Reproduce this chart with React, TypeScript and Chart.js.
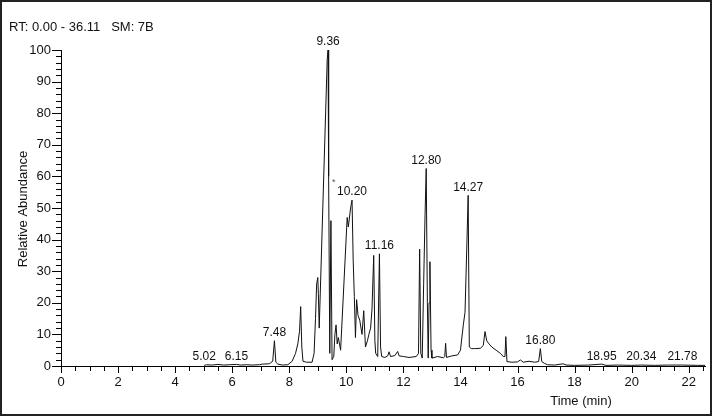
import React, { useEffect, useRef } from "react";
import { Chart, registerables } from "chart.js";

Chart.register(...registerables);

const FONT = '"Liberation Sans", Arial, Helvetica, sans-serif';

const chartTitle = "RT: 0.00 - 36.11   SM: 7B";
const xAxisTitle = "Time (min)";
const yAxisTitle = "Relative Abundance";

// retention time (min)
const times = [
  5.02, 5.1, 5.3, 5.5, 5.7, 5.9, 6.15, 6.3, 6.5, 6.7, 6.95, 7.06, 7.3, 7.42, 7.48, 7.53, 7.6, 7.76, 7.95,
  8.1, 8.22, 8.3, 8.36, 8.4, 8.44, 8.48, 8.6, 8.8, 8.87, 8.92, 8.96, 9.0, 9.02, 9.05, 9.33, 9.36, 9.38,
  9.42, 9.46, 9.5, 9.56, 9.6, 9.64, 9.68, 9.72, 9.8, 10.03, 10.07, 10.15, 10.2, 10.24, 10.28, 10.32,
  10.36, 10.41, 10.47, 10.55, 10.61, 10.67, 10.74, 10.79, 10.85, 10.9, 10.96, 11.0, 11.03, 11.1, 11.16,
  11.2, 11.24, 11.35, 11.45, 11.5, 11.55, 11.7, 11.8, 11.85, 12.0, 12.2, 12.45, 12.53, 12.57, 12.61,
  12.66, 12.71, 12.76, 12.8, 12.84, 12.87, 12.9, 12.93, 12.97, 13.0, 13.2, 13.4, 13.45, 13.48, 13.51,
  13.7, 13.9, 14.0, 14.1, 14.16, 14.22, 14.27, 14.31, 14.38, 14.5, 14.7, 14.8, 14.86, 14.92, 15.0, 15.1,
  15.25, 15.4, 15.5, 15.56, 15.59, 15.63, 15.8, 16.0, 16.1, 16.2, 16.4, 16.6, 16.74, 16.8, 16.85, 16.95,
  17.05, 17.3, 17.6, 17.7, 18.0, 18.5, 18.95, 19.1, 19.5, 20.0, 20.34, 20.8, 21.3, 21.78, 22.3, 22.58,
];

// relative abundance (%)
const abundance = [
  0.2, 0.4, 0.3, 0.5, 0.3, 0.4, 0.5, 0.3, 0.4, 0.3, 0.4, 0.6, 0.7, 1.5, 8, 1.2, 0.6, 0.3, 0.4,
  1.5, 4, 7, 11, 18.8, 6, 1.5, 1.2, 1.2, 4, 15, 26, 28, 23, 12, 97, 100, 60,
  4, 46, 2, 3, 10, 13, 7, 9, 5, 47, 44, 50, 52.5, 33.5, 22, 9,
  21, 16, 14.5, 10, 17.5, 6, 8, 10, 12, 18, 35, 8, 4, 3, 35.5,
  6, 3, 2.7, 3.2, 4.5, 3, 3.3, 4.6, 3.2, 3, 2.7, 3, 4, 37, 4,
  2.5, 26, 48, 62.5, 20, 2.5, 20, 33, 5, 2.5, 3, 2.6, 3, 7.2, 2.7,
  3.2, 3.5, 5, 13, 17, 37, 54, 6, 5.5, 5.5, 5.6, 6.5, 10.9, 8, 7, 6,
  5, 4, 3, 3, 9.3, 1.4, 1.2, 1.3, 1.9, 1.2, 1.5, 1.2, 1.4, 5.5, 1.4, 0.8,
  0.4, 0.3, 0.7, 0.3, 0.2, 0.3, 0.6, 0.2, 0.3, 0.2, 0.3, 0.2, 0.3, 0.3, 0.2, 0.2,
];

// labelled peaks
const peakTimes = [5.02, 6.15, 7.48, 9.36, 10.2, 11.16, 12.8, 14.27, 16.8, 18.95, 20.34, 21.78];
const peakValues = [0.3, 0.3, 8, 100, 52.5, 35.5, 62.5, 54, 5.5, 0.3, 0.3, 0.3];
const peakLabels = ["5.02", "6.15", "7.48", "9.36", "10.20", "11.16", "12.80", "14.27", "16.80", "18.95", "20.34", "21.78"];

// small asterisk marker
const markerTimes = [9.56];
const markerValues = [58];

const decorPlugin = {
  id: "decor",
  beforeDraw(chart: any) {
    const ctx = chart.ctx;
    ctx.save();
    ctx.fillStyle = "#fff";
    ctx.fillRect(0, 0, chart.width, chart.height);
    ctx.restore();
  },
  afterDraw(chart: any) {
    const ctx = chart.ctx;
    const xs = chart.scales.x;
    const ys = chart.scales.y;
    const ca = chart.chartArea;
    ctx.save();
    ctx.strokeStyle = "#000";
    ctx.lineWidth = 1;
    // x tick marks
    xs.ticks.forEach((t: any) => {
      const px = Math.round(xs.getPixelForValue(t.value)) + 0.5;
      const major = Math.abs(t.value / 2 - Math.round(t.value / 2)) < 1e-6;
      ctx.beginPath();
      ctx.moveTo(px, ca.bottom);
      ctx.lineTo(px, ca.bottom + (major ? 7 : 5));
      ctx.stroke();
    });
    // y tick marks
    ys.ticks.forEach((t: any) => {
      const py = Math.round(ys.getPixelForValue(t.value)) + 0.5;
      const major = Math.abs(t.value / 10 - Math.round(t.value / 10)) < 1e-6;
      ctx.beginPath();
      ctx.moveTo(ca.left, py);
      ctx.lineTo(ca.left - (major ? 9 : 5), py);
      ctx.stroke();
    });

    ctx.fillStyle = "#111";
    // peak labels
    ctx.font = `12px ${FONT}`;
    ctx.textAlign = "center";
    ctx.textBaseline = "bottom";
    peakTimes.forEach((t, i) => {
      const px = xs.getPixelForValue(t);
      const py = ys.getPixelForValue(peakValues[i]);
      ctx.fillText(peakLabels[i], px, py - 2);
    });
    // asterisk
    ctx.font = `9px ${FONT}`;
    ctx.fillStyle = "#555";
    ctx.textBaseline = "middle";
    markerTimes.forEach((t, i) => {
      ctx.fillText("*", xs.getPixelForValue(t), ys.getPixelForValue(markerValues[i]));
    });

    // titles
    ctx.fillStyle = "#111";
    ctx.font = `13px ${FONT}`;
    ctx.textAlign = "left";
    ctx.textBaseline = "middle";
    ctx.fillText(chartTitle, 9, 27);

    ctx.textAlign = "center";
    ctx.fillText(xAxisTitle, 581, 401);

    ctx.save();
    ctx.translate(23, 209);
    ctx.rotate(-Math.PI / 2);
    ctx.fillText(yAxisTitle, 0, 0);
    ctx.restore();

    // outer frame
    ctx.strokeStyle = "#222";
    ctx.lineWidth = 2;
    ctx.strokeRect(1, 1, chart.width - 2, chart.height - 3);
    ctx.restore();
  },
};

export default function App() {
  const ref = useRef<HTMLCanvasElement | null>(null);
  useEffect(() => {
    document.body.style.margin = "0";
    const canvas = ref.current;
    if (!canvas) return;
    const chart = new Chart(canvas, {
      type: "line",
      data: {
        datasets: [
          {
            data: times.map((t, i) => ({ x: t, y: abundance[i] })),
            borderColor: "#111",
            borderWidth: 1,
            pointRadius: 0,
            tension: 0,
            fill: false,
          },
        ],
      },
      options: {
        animation: false,
        responsive: false,
        devicePixelRatio: 1,
        layout: { padding: { left: 0, top: 50, right: 4, bottom: 0 } },
        plugins: { legend: { display: false }, tooltip: { enabled: false }, title: { display: false } },
        scales: {
          x: {
            type: "linear",
            min: 0,
            max: 22.58,
            afterFit(s: any) {
              s.height = 51;
            },
            grid: { display: false, drawTicks: false },
            border: { display: true, color: "#000", width: 1 },
            ticks: {
              stepSize: 0.5,
              autoSkip: false,
              maxRotation: 0,
              includeBounds: false,
              padding: 9,
              color: "#111",
              font: { family: FONT, size: 13 },
              callback: (v: any) => {
                const n = Number(v);
                return Math.abs(n / 2 - Math.round(n / 2)) < 1e-6 ? String(Math.round(n)) : "";
              },
            },
          },
          y: {
            type: "linear",
            min: 0,
            max: 100,
            afterFit(s: any) {
              s.width = 61;
            },
            grid: { display: false, drawTicks: false },
            border: { display: true, color: "#000", width: 1 },
            ticks: {
              stepSize: 2,
              autoSkip: false,
              padding: 10,
              color: "#111",
              font: { family: FONT, size: 13 },
              callback: (v: any) => {
                const n = Number(v);
                return Math.abs(n / 10 - Math.round(n / 10)) < 1e-6 ? String(Math.round(n)) : "";
              },
            },
          },
        },
      },
      plugins: [decorPlugin],
    } as any);
    return () => chart.destroy();
  }, []);
  return (
    <div style={{ width: 712, height: 417 }}>
      <canvas ref={ref} width={712} height={417} style={{ display: "block" }} />
    </div>
  );
}
